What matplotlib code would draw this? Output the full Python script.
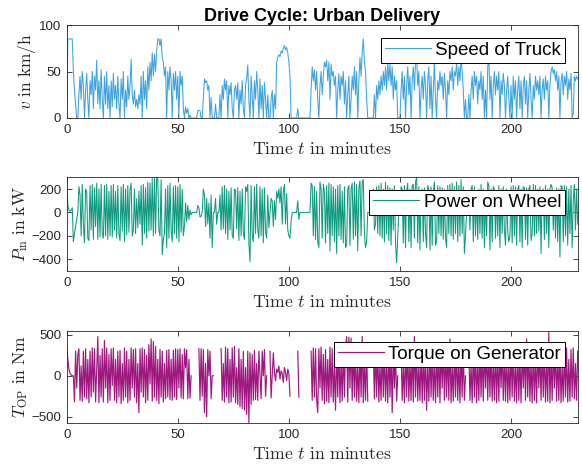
import numpy as np
import matplotlib
matplotlib.use("Agg")
import matplotlib.pyplot as plt

plt.rcParams['mathtext.fontset'] = 'cm'
plt.rcParams['font.family'] = ['Liberation Sans', 'DejaVu Sans']

# sample spacing of the traces (minutes)
sample_step_min = 0.5

speed_kmh = [
    0, 85, 85, 85, 85, 85, 50, 30, 15, 0, 0, 25, 45, 20, 50, 35, 0, 30, 48, 20,
    0, 40, 25, 50, 10, 45, 30, 62, 15, 40, 10, 52, 20, 0, 45, 15, 50, 10, 35, 0,
    40, 12, 48, 20, 35, 10, 45, 15, 0, 42, 20, 50, 0, 30, 12, 45, 20, 35, 63, 25,
    15, 30, 12, 20, 10, 25, 15, 45, 0, 50, 20, 40, 10, 55, 30, 60, 40, 70, 45, 68,
    50, 72, 85, 85, 78, 85, 65, 60, 45, 55, 0, 50, 30, 55, 40, 0, 48, 30, 50, 20,
    45, 0, 50, 35, 45, 10, 0, 12, 5, 10, 0, 3, 0, 0, 0, 0, 0, 0, 8, 8,
    8, 0, 0, 20, 42, 38, 40, 30, 35, 0, 22, 0, 0, 0, 15, 0, 0, 0, 25, 0,
    35, 20, 42, 30, 40, 0, 35, 25, 38, 10, 0, 30, 35, 20, 38, 0, 30, 15, 40, 10,
    0, 35, 42, 57, 20, 0, 45, 25, 0, 40, 20, 50, 30, 0, 42, 10, 35, 0, 38, 20,
    0, 25, 0, 0, 20, 30, 0, 25, 10, 60, 65, 68, 66, 72, 70, 75, 78, 73, 76, 70,
    60, 45, 0, 0, 0, 0, 0, 0, 10, 0, 0, 0, 0, 0, 0, 0, 0, 0, 0, 0,
    30, 55, 40, 52, 30, 50, 20, 0, 35, 50, 25, 45, 60, 55, 62, 40, 60, 20, 58, 45,
    50, 35, 45, 0, 30, 48, 20, 45, 35, 50, 15, 40, 0, 25, 45, 0, 20, 45, 30, 55,
    25, 50, 0, 40, 65, 45, 70, 85, 60, 50, 20, 0, 0, 0, 0, 0, 0, 25, 0, 35,
    20, 40, 25, 45, 30, 50, 35, 55, 30, 60, 40, 58, 35, 55, 20, 45, 30, 40, 0, 0,
    0, 30, 50, 20, 45, 0, 35, 55, 25, 45, 0, 40, 55, 30, 60, 65, 35, 50, 0, 30,
    45, 20, 50, 35, 0, 40, 55, 10, 45, 0, 30, 60, 20, 0, 40, 30, 50, 35, 45, 20,
    48, 30, 0, 40, 25, 50, 40, 55, 30, 50, 45, 60, 35, 55, 40, 65, 50, 30, 0, 20,
    0, 0, 25, 0, 30, 45, 20, 50, 35, 45, 15, 40, 30, 50, 20, 45, 0, 30, 0, 55,
    65, 20, 45, 0, 35, 50, 25, 45, 30, 50, 0, 40, 25, 48, 35, 0, 30, 45, 20, 0,
    35, 0, 45, 20, 40, 0, 30, 45, 10, 40, 0, 35, 45, 15, 40, 0, 30, 48, 20, 0,
    35, 20, 45, 30, 40, 25, 45, 0, 30, 42, 20, 45, 30, 40, 0, 35, 50, 55, 48, 52,
    40, 50, 30, 45, 0, 40, 48, 25, 45, 35, 50, 20, 42, 30, 48, 0, 5, 45, 40, 45,
    42,
]

power_kw = [
    290, 60, 20, 10, 20, 40, -250, -180, -120, -60, 0, 220, 150, -200, 240, -100, -260, 200, 180, -220,
    -240, 230, -150, 240, -230, 210, -120, 250, -230, 200, -210, 240, -180, -220, 230, -200, 240, -230, 180, -200,
    230, -210, 240, -150, 180, -220, 230, -180, -240, 220, -160, 240, -250, 200, -190, 230, -170, 190, 250, -200,
    -150, 200, -180, 120, -130, 180, -100, 230, -280, 240, -180, 210, -220, 260, -160, 250, -150, 290, -200, 300,
    -180, 300, 280, -150, -200, 280, -360, -230, -180, 200, -300, 230, -220, 250, -150, -250, 220, -180, 230, -220,
    220, -250, 240, -170, 200, -200, -120, 80, -80, 60, -60, 20, -20, 0, 0, 0, 0, 0, 60, 40,
    -40, -30, 0, 200, 150, -120, 120, -100, 80, -220, 150, -300, 0, 0, 120, -100, 0, 0, 150, -150,
    220, -140, 230, -180, 200, -230, 180, -150, 210, -200, -220, 200, 190, -140, 210, -240, 180, -200, 200, -180,
    -230, 220, 180, 240, -260, -420, 230, -200, -250, 220, -180, 240, -150, -220, 220, -200, 200, -260, 210, -170,
    -220, 150, -130, 0, 120, 100, -120, 100, -60, 180, 120, 200, 80, 220, -100, 180, 240, -100, 160, -150,
    -200, -220, -80, 0, 0, 0, 0, 0, 100, -60, 0, 0, 0, 0, 0, 0, 0, 0, 0, 0,
    250, 230, -200, 220, -230, 180, -250, -300, 260, 200, -220, 240, 180, -260, 230, -180, 250, -330, 240, -200,
    220, -250, 200, -350, 230, -200, 240, -230, 180, -260, 220, -300, -280, 200, 230, -280, 200, 250, -230, 260,
    -200, 240, -330, 210, 270, -200, 260, 280, -180, -300, -250, 0, 0, 0, 0, 0, 200, -150, -100, 220,
    -180, 230, -200, 250, -220, 200, -250, 260, -180, 230, -240, 210, -280, 200, -150, 230, -260, -430, -200, 0,
    0, 220, 200, -260, 230, -300, 180, 250, -250, 200, -300, 230, 240, -220, 260, 300, -260, 220, -320, 180,
    200, -250, 210, -180, -300, 230, 200, -320, 220, -280, 180, 260, -280, -250, 230, -180, 220, -200, 210, -230,
    200, -220, -300, 230, -180, 240, -200, 250, -230, 220, -180, 260, -250, 230, -200, 280, -180, 220, -350, -200,
    0, 0, 180, -150, 200, 230, -250, 220, -200, 180, -230, 200, -180, 240, -220, 200, -300, 150, -200, 260,
    230, -320, 200, -250, 220, 200, -220, 180, -200, 230, -300, 200, -180, 220, -150, -280, 200, -160, -250, -200,
    220, -260, 230, -200, 220, -280, 200, 230, -250, 200, -300, 220, 210, -230, 210, -280, 200, 230, -240, -180,
    240, -200, 230, -180, 200, -160, 220, -350, 180, 200, -230, 230, -180, 200, -300, 200, 240, 210, -150, 180,
    -220, 210, -250, 200, -380, 230, 220, -250, 230, -200, 220, -280, 200, -180, 230, -300, 100, 240, -150, 200,
    -100,
]

nan = float('nan')
torque_nm = [
    350, 200, 80, 30, 10, 0, 0, -320, 300, -150, 260, 330, -300, 120, -310, 300, -260, 330, -280, 200,
    -330, 300, -260, 340, -200, 330, -320, 100, 480, -330, 250, -260, 330, -320, 430, -150, 340, -330, 260, -300,
    330, -120, 340, -300, 200, -330, 300, -260, 310, -340, 150, -300, 340, -260, 300, -330, 200, -300, 340, -150,
    320, -260, 330, -330, 150, -450, 330, -200, 340, -260, 320, -330, 250, -300, 380, -100, 450, -310, 420, -260,
    360, -300, 200, -340, 320, -260, 300, -320, 150, -280, 310, -260, 320, -290, 200, -300, 310, -260, 330, -290,
    320, -150, 330, -270, 260, -280, 330, 100, 320, -280, 200, -270, 0, nan, nan, nan, nan, nan, nan, 330,
    -300, 330, -250, 320, -450, 150, -500, 320, 0, 300, -280, 0, 0, nan, nan, nan, nan, nan, nan, 330,
    -300, 150, -320, 350, -260, 330, -330, 200, -320, 340, -260, 360, -330, 100, -350, 330, -380, 200, -400, 300,
    -420, 100, -470, 300, -570, 280, -350, 260, -300, 310, -290, 150, -300, 300, 0, -280, 300, 0, 320, -250,
    0, nan, nan, 300, -270, 0, 280, 50, -60, 80, 40, 120, -40, 60, 30, -80, 100, 40, -60, 80,
    30, -250, nan, nan, nan, nan, nan, nan, 300, -260, nan, nan, nan, nan, nan, nan, nan, nan, nan, nan,
    300, -300, 340, -260, 330, -300, -450, 330, -150, 350, -300, 260, -340, 320, -310, 200, -330, 350, -260, 330,
    -320, 150, -420, 330, -260, 350, -330, 200, -310, 340, -260, 330, 480, -320, 470, -150, 460, -300, 340, -260,
    330, -310, 150, -330, 320, -260, 480, -330, 200, -300, 320, -310, nan, nan, nan, nan, 300, -280, 330, -260,
    340, -320, 150, -300, 350, -260, 320, -310, 200, -330, 330, -260, 320, -450, 340, -150, 300, -310, 0, nan,
    nan, 320, -300, 150, -330, 330, -260, 350, -310, 200, -300, 330, -320, 480, -260, 340, -310, 150, -300, 320,
    -330, 260, -300, 330, -420, 150, -310, 340, -260, 320, -300, 200, -330, 330, -260, 320, -330, 350, -150, 330,
    -300, 340, -260, 330, -300, 450, -330, 150, -310, 330, -260, 340, -300, 200, -330, 320, -260, 340, -300, 0,
    nan, nan, 320, -300, 150, -330, 330, -260, 320, -330, 200, -300, 330, -260, 320, -310, 340, -150, 330, -300,
    340, -260, 320, -310, 200, -300, 340, -330, 260, -310, 330, -150, 340, -300, 260, -310, 320, -330, 200, -300,
    330, -260, 340, -310, 150, -330, 330, -300, 260, -330, 320, -150, 330, -300, 450, -260, 340, -310, 200, -330,
    320, -300, 260, -330, 330, -150, 320, -300, 340, -260, 330, -320, 200, -310, 530, -330, 260, -300, 340, -150,
    330, -310, 260, -300, 340, -330, 150, -310, 330, -260, 340, -320, 200, -310, 320, -260, 340, -280, 150, -300,
    300,
]

series_names = ["Speed of Truck", "Power on Wheel", "Torque on Generator"]
series_colors = ["#3DA3DE", "#0E9A80", "#9E187F"]
line_widths = [0.75, 0.75, 0.85]
y_labels = [r"$v\ \mathrm{in\ km/h}$", r"$P_\mathrm{in}\ \mathrm{in\ kW}$",
            r"$T_\mathrm{OP}\ \mathrm{in\ Nm}$"]
x_label = r"$\mathrm{Time}\ t\ \mathrm{in\ minutes}$"
title = "Drive Cycle: Urban Delivery"
x_ticks = [0, 50, 100, 150, 200]
y_ticks = [[0, 50, 100], [-400, -200, 0, 200], [-500, 0, 500]]
y_limits = [(0, 100), (-500, 300), (-580, 550)]
x_limits = (0, 230)

W, H = 582, 470
fig = plt.figure(figsize=(W / 100, H / 100), dpi=100)
# axes boxes in pixels: left, top, right, bottom
boxes = [(66.7, 25, 577.7, 118), (66.7, 177.3, 577.7, 271), (66.7, 330.7, 577.7, 423.3)]
legend_anchor_y = [0.86, 0.864, 0.878]

axis_col = '#262626'
for i, (data, name, col) in enumerate(zip([speed_kmh, power_kw, torque_nm], series_names, series_colors)):
    l, t, r, b = boxes[i]
    ax = fig.add_axes([l / W, 1 - b / H, (r - l) / W, (b - t) / H])
    tt = np.arange(len(data)) * sample_step_min
    ax.plot(tt, data, color=col, lw=line_widths[i], label=name)
    ax.set_xlim(*x_limits)
    ax.set_ylim(*y_limits[i])
    ax.set_xticks(x_ticks)
    ax.set_yticks(y_ticks[i])
    ax.tick_params(direction='in', top=True, right=True, length=3.5, width=0.6,
                   color=axis_col, labelcolor=axis_col, labelsize=9.5, pad=4)
    for s in ax.spines.values():
        s.set_color(axis_col)
        s.set_linewidth(0.6)
    ax.set_xlabel(x_label, fontsize=12.8, labelpad=4, color=axis_col)
    ax.set_ylabel(y_labels[i], fontsize=12.5, labelpad=1, color=axis_col)
    leg = ax.legend(loc='upper right', bbox_to_anchor=(0.975, legend_anchor_y[i]),
                    borderaxespad=0, fontsize=13.5, fancybox=False, framealpha=1,
                    edgecolor='black', handlelength=2.45, handletextpad=0.25,
                    borderpad=0.2)
    leg.get_frame().set_linewidth(0.7)
    if i == 0:
        ax.set_title(title, fontsize=13, fontweight='bold', pad=3, color='black')

fig.savefig("out.png", dpi=100)
